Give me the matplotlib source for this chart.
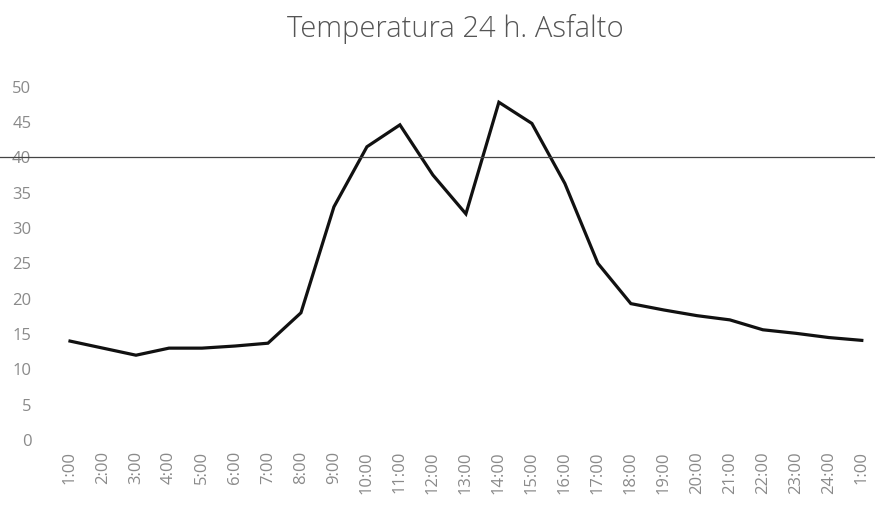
import matplotlib.pyplot as plt
import numpy as np

plt.rcParams['font.family'] = ['Open Sans', 'DejaVu Sans']

# hours of the day and asphalt temperature
hours = ['1:00', '2:00', '3:00', '4:00', '5:00', '6:00', '7:00', '8:00',
         '9:00', '10:00', '11:00', '12:00', '13:00', '14:00', '15:00',
         '16:00', '17:00', '18:00', '19:00', '20:00', '21:00', '22:00',
         '23:00', '24:00', '1:00']
temps = [14, 13, 12, 13, 13, 13.3, 13.7, 18, 33, 41.5, 44.6, 37.5, 32,
         47.8, 44.8, 36.3, 25, 19.3, 18.4, 17.6, 17, 15.6, 15.1, 14.5, 14.1]
threshold = 40
yticks = np.arange(0, 55, 5)

fig = plt.figure(figsize=(8.75, 5.08), dpi=100)
ax = fig.add_axes([53.5 / 875, 68 / 508, (875 - 53.5) / 875, (440 - 86.7) / 508])

x = np.arange(len(hours))
ax.plot(x, temps, color='#111111', lw=2.3, solid_joinstyle='miter')

ax.set_xlim(-0.5, 24.4)
ax.set_ylim(0, 50)
ax.set_yticks(yticks)
ax.set_xticks(x)
ax.set_xticklabels(hours, rotation=90)
ax.tick_params(axis='both', length=0, labelcolor='#8a8a8a', labelsize=12)
ax.tick_params(axis='y', pad=16)
ax.tick_params(axis='x', pad=8)
for s in ax.spines.values():
    s.set_visible(False)

# reference line at 40, runs across the whole picture
xmin = -53.5 / (875 - 53.5)
ax.axhline(threshold, xmin=xmin, xmax=1, color='#444444', lw=0.9, clip_on=False)

fig.suptitle('Temperatura 24 h. Asfalto', x=0.52, y=0.972, fontsize=21,
             color='#555555', fontweight='light')

fig.savefig('out.png', dpi=100)
